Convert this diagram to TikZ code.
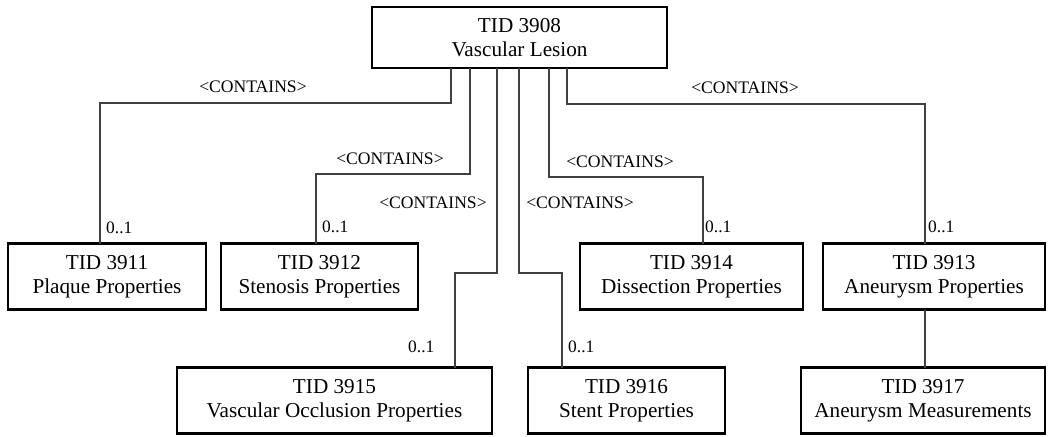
\documentclass[tikz,border=0pt]{standalone}
\usepackage{fontspec}
\setmainfont{Liberation Serif}
\begin{document}
\begin{tikzpicture}[x=1pt,y=-1pt,
  box/.style={draw=black, line width=2.4pt, rectangle, inner sep=0pt, outer sep=0pt, align=center,
    font=\fontsize{21.2}{24}\selectfont},
  conn/.style={draw=black!75, line width=1.1pt},
  lab/.style={anchor=base, inner sep=0pt, font=\fontsize{17.6}{20}\selectfont},
  mult/.style={anchor=base west, inner sep=0pt, font=\fontsize{17.4}{20}\selectfont}]
\useasboundingbox (0,0) rectangle (1048,436);
% boxes
\node[box, minimum width=295pt, minimum height=61pt] (top) at (519.5,37.5) {TID 3908\\Vascular Lesion};
\node[box, minimum width=198pt, minimum height=66pt] (p11) at (107,276.5) {TID 3911\\Plaque Properties};
\node[box, minimum width=197pt, minimum height=66pt] (p12) at (319.5,276.5) {TID 3912\\Stenosis Properties};
\node[box, minimum width=223pt, minimum height=66pt] (p14) at (691.5,276.5) {TID 3914\\Dissection Properties};
\node[box, minimum width=222pt, minimum height=66pt] (p13) at (934,276.5) {TID 3913\\Aneurysm Properties};
\node[box, minimum width=315pt, minimum height=66pt] (p15) at (334.5,400.5) {TID 3915\\Vascular Occlusion Properties};
\node[box, minimum width=197pt, minimum height=66pt] (p16) at (626.5,400.5) {TID 3916\\Stent Properties};
\node[box, minimum width=244pt, minimum height=66pt] (p17) at (923,400.5) {TID 3917\\Aneurysm Measurements};
% turning points
\coordinate (k1) at (451,103); \coordinate (e1) at (100,0);
\coordinate (k2) at (470,174); \coordinate (e2) at (316,0);
\coordinate (k3) at (497,273); \coordinate (e3) at (455,0);
\coordinate (k4) at (519,273); \coordinate (e4) at (562,0);
\coordinate (k5) at (549,177); \coordinate (e5) at (703,0);
\coordinate (k6) at (567,104); \coordinate (e6) at (925,0);
% connectors
\draw[conn] (top.south -| k1) -- (k1) -| (p11.north -| e1);
\draw[conn] (top.south -| k2) -- (k2) -| (p12.north -| e2);
\draw[conn] (top.south -| k3) -- (k3) -| (p15.north -| e3);
\draw[conn] (top.south -| k4) -- (k4) -| (p16.north -| e4);
\draw[conn] (top.south -| k5) -- (k5) -| (p14.north -| e5);
\draw[conn] (top.south -| k6) -- (k6) -| (p13.north -| e6);
\draw[conn] (p13.south -| e6) -- (p17.north -| e6);
% labels
\node[lab] (l1) at (253,92) {<CONTAINS>};
\node[lab] (l2) at (390,164) {<CONTAINS>};
\node[lab] (l3) at (433,208) {<CONTAINS>};
\node[lab] (l4) at (580,208) {<CONTAINS>};
\node[lab] (l5) at (620,167) {<CONTAINS>};
\node[lab] (l6) at (745,93) {<CONTAINS>};
\node[mult] (m1) at (106,233) {0..1};
\node[mult] (m2) at (322,232) {0..1};
\node[mult] (m3) at (408,352) {0..1};
\node[mult] (m4) at (568,352) {0..1};
\node[mult] (m5) at (705,232) {0..1};
\node[mult] (m6) at (928,232) {0..1};
\end{tikzpicture}
\end{document}
